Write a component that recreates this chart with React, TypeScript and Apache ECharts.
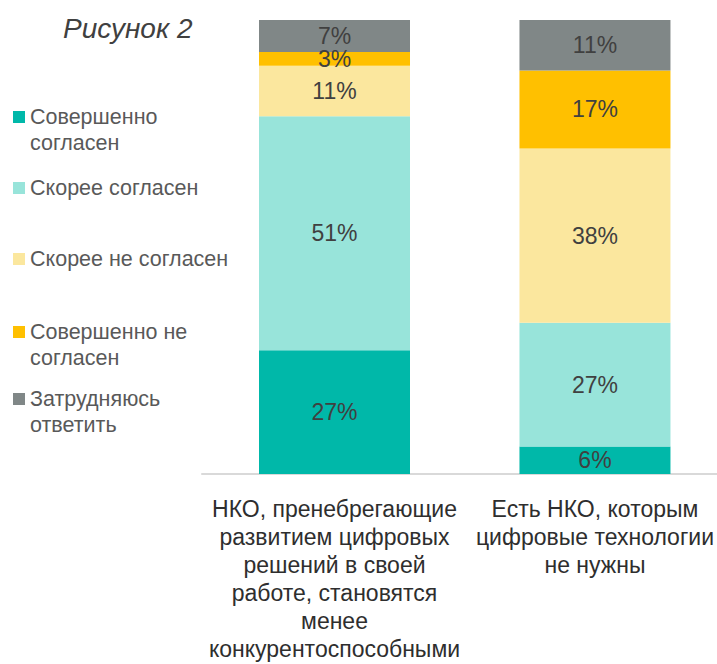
import React, { useEffect, useRef } from "react";
import * as echarts from "echarts";

const categories = [
  "НКО, пренебрегающие\nразвитием цифровых\nрешений в своей\nработе, становятся\nменее\nконкурентоспособными",
  "Есть НКО, которым\nцифровые технологии\nне нужны",
];
const seriesNames = [
  "Совершенно\nсогласен",
  "Скорее согласен",
  "Скорее не согласен",
  "Совершенно не\nсогласен",
  "Затрудняюсь\nответить",
];
const fullyAgree = [27, 6];
const ratherAgree = [51, 27];
const ratherDisagree = [11, 38];
const fullyDisagree = [3, 17];
const hardToSay = [7, 11];
const seriesValues = [fullyAgree, ratherAgree, ratherDisagree, fullyDisagree, hardToSay];
const colors = ["#00B8A9", "#98E4DA", "#FBE79E", "#FFC000", "#808787"];
const legendCenters = [117, 188, 259, 332, 399];

const FONT = "'Liberation Sans', Arial, sans-serif";

export default function App() {
  const ref = useRef<HTMLDivElement>(null);
  useEffect(() => {
    if (!ref.current) return;
    const chart = echarts.init(ref.current, null, { renderer: "svg" });
    const lh = 26;
    const legends = seriesNames.map((name, i) => {
      const lines = name.split("\n").length;
      const shown = 2 * lines - 1;
      return {
        orient: "vertical",
        left: 13,
        top: legendCenters[i] - (lh * shown) / 2,
        padding: 0,
        itemWidth: 12,
        itemHeight: 12,
        icon: "rect",
        selectedMode: false,
        data: [name],
        formatter: (n: string) => (n.indexOf("\n") >= 0 ? " \n" + n : n),
        textStyle: {
          fontFamily: FONT,
          fontSize: 21.5,
          color: "#595959",
          lineHeight: lh,
        },
      };
    });
    chart.setOption({
      animation: false,
      color: colors,
      title: {
        text: "Рисунок 2",
        left: 63,
        top: 14,
        padding: 0,
        textStyle: {
          fontFamily: FONT,
          fontSize: 28,
          fontStyle: "italic",
          fontWeight: "normal",
          color: "#404040",
        },
      },
      legend: legends,
      grid: [
        { left: 334.5, width: 263.5, top: 20, height: 454 },
        { left: 202, right: 0, top: 20, height: 454 },
      ],
      xAxis: [
        {
          type: "category",
          gridIndex: 0,
          boundaryGap: false,
          data: categories,
          axisLine: { show: false },
          axisTick: { show: false },
          axisLabel: {
            interval: 0,
            margin: 21,
            fontFamily: FONT,
            fontSize: 23,
            lineHeight: 28,
            color: "#2E2E2E",
          },
        },
        {
          type: "value",
          gridIndex: 1,
          min: 0,
          max: 1,
          axisLine: { show: true, lineStyle: { color: "#D9D9D9", width: 2 } },
          axisTick: { show: false },
          axisLabel: { show: false },
          splitLine: { show: false },
        },
      ],
      yAxis: [
        { type: "value", gridIndex: 0, min: 0, max: 99, show: false },
        { type: "value", gridIndex: 1, min: 0, max: 1, show: false },
      ],
      series: seriesNames.map((name, i) => ({
        name,
        type: "bar",
        stack: "total",
        barWidth: 151,
        clip: false,
        data: seriesValues[i],
        itemStyle: { color: colors[i] },
        label: {
          show: true,
          position: "inside",
          formatter: "{c}%",
          fontFamily: FONT,
          fontSize: 23,
          color: "#404040",
        },
      })),
    });
    return () => chart.dispose();
  }, []);
  return (
    <div
      ref={ref}
      style={{ position: "absolute", left: 0, top: 0, width: 717, height: 664 }}
    />
  );
}
